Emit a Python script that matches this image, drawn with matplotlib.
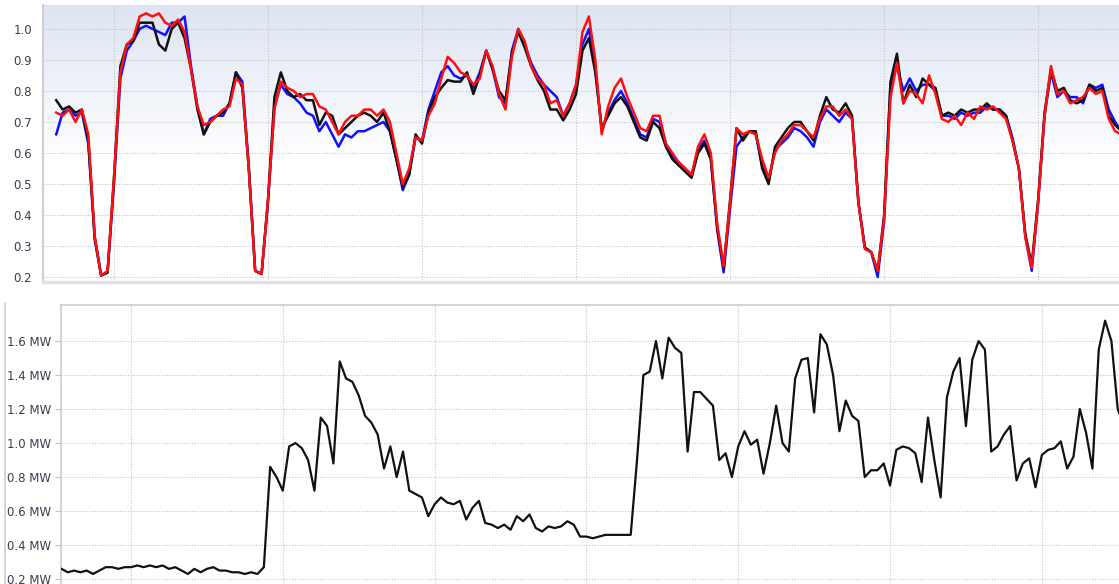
import numpy as np
import matplotlib.pyplot as plt
from matplotlib.lines import Line2D

# 上段: 3系列 (1時間ごと, t = 15 .. 181 h)
hours_top = np.arange(15, 182)

series_black = [
    0.77, 0.74, 0.75, 0.73, 0.74, 0.64, 0.33, 0.205, 0.215, 0.52,
    0.88, 0.95, 0.96, 1.02, 1.02, 1.02, 0.95, 0.93, 1.00, 1.02,
    0.97, 0.87, 0.74, 0.66, 0.70, 0.72, 0.73, 0.76, 0.86, 0.81,
    0.55, 0.22, 0.21, 0.45, 0.78, 0.86, 0.80, 0.78, 0.79, 0.77,
    0.77, 0.69, 0.73, 0.72, 0.66, 0.68, 0.70, 0.72, 0.73, 0.72,
    0.70, 0.73, 0.67, 0.58, 0.49, 0.53, 0.66, 0.63, 0.73, 0.78,
    0.81, 0.835, 0.83, 0.83, 0.86, 0.79, 0.85, 0.93, 0.87, 0.80,
    0.77, 0.92, 0.99, 0.94, 0.88, 0.835, 0.80, 0.74, 0.74, 0.705,
    0.74, 0.79, 0.93, 0.97, 0.86, 0.68, 0.72, 0.76, 0.78, 0.75,
    0.70, 0.65, 0.64, 0.70, 0.68, 0.62, 0.58, 0.56, 0.54, 0.52,
    0.60, 0.63, 0.58, 0.36, 0.23, 0.45, 0.68, 0.64, 0.67, 0.67,
    0.55, 0.50, 0.62, 0.65, 0.68, 0.70, 0.70, 0.67, 0.64, 0.72,
    0.78, 0.74, 0.73, 0.76, 0.72, 0.44, 0.295, 0.28, 0.22, 0.40,
    0.83, 0.92, 0.76, 0.82, 0.78, 0.84, 0.82, 0.81, 0.72, 0.73,
    0.72, 0.74, 0.73, 0.74, 0.74, 0.76, 0.74, 0.74, 0.72, 0.64,
    0.55, 0.34, 0.24, 0.45, 0.73, 0.87, 0.80, 0.81, 0.77, 0.76,
    0.77, 0.82, 0.80, 0.81, 0.72, 0.69, 0.67,
]

series_blue = [
    0.66, 0.73, 0.74, 0.72, 0.73, 0.63, 0.32, 0.205, 0.215, 0.50,
    0.84, 0.93, 0.96, 1.00, 1.01, 1.00, 0.99, 0.98, 1.02, 1.02,
    1.04, 0.88, 0.75, 0.66, 0.71, 0.72, 0.72, 0.76, 0.86, 0.83,
    0.56, 0.22, 0.21, 0.44, 0.75, 0.82, 0.79, 0.78, 0.76, 0.73,
    0.72, 0.67, 0.70, 0.66, 0.62, 0.66, 0.65, 0.67, 0.67, 0.68,
    0.69, 0.70, 0.67, 0.58, 0.48, 0.53, 0.65, 0.64, 0.74, 0.80,
    0.86, 0.88, 0.85, 0.84, 0.85, 0.81, 0.86, 0.93, 0.87, 0.78,
    0.76, 0.93, 1.00, 0.95, 0.89, 0.85, 0.82, 0.80, 0.78, 0.72,
    0.76, 0.82, 0.95, 1.00, 0.87, 0.67, 0.73, 0.77, 0.80, 0.76,
    0.71, 0.66, 0.65, 0.71, 0.70, 0.63, 0.59, 0.57, 0.55, 0.53,
    0.61, 0.64, 0.58, 0.35, 0.215, 0.42, 0.62, 0.65, 0.67, 0.66,
    0.56, 0.51, 0.61, 0.63, 0.65, 0.68, 0.67, 0.65, 0.62, 0.70,
    0.74, 0.72, 0.70, 0.73, 0.71, 0.44, 0.295, 0.28, 0.20, 0.38,
    0.82, 0.88, 0.80, 0.84, 0.80, 0.82, 0.82, 0.80, 0.72, 0.72,
    0.71, 0.73, 0.72, 0.73, 0.73, 0.75, 0.74, 0.74, 0.72, 0.65,
    0.55, 0.33, 0.22, 0.44, 0.72, 0.86, 0.78, 0.80, 0.78, 0.78,
    0.76, 0.82, 0.81, 0.82, 0.74, 0.70, 0.67,
]

series_red = [
    0.73, 0.72, 0.74, 0.70, 0.74, 0.66, 0.33, 0.205, 0.22, 0.52,
    0.86, 0.95, 0.97, 1.04, 1.05, 1.04, 1.05, 1.02, 1.01, 1.03,
    0.99, 0.87, 0.75, 0.69, 0.70, 0.72, 0.74, 0.75, 0.84, 0.82,
    0.55, 0.22, 0.21, 0.45, 0.74, 0.83, 0.81, 0.80, 0.78, 0.79,
    0.79, 0.75, 0.74, 0.70, 0.66, 0.70, 0.72, 0.72, 0.74, 0.74,
    0.72, 0.74, 0.70, 0.60, 0.50, 0.55, 0.65, 0.64, 0.72, 0.76,
    0.84, 0.91, 0.89, 0.86, 0.85, 0.82, 0.84, 0.93, 0.88, 0.79,
    0.74, 0.91, 1.00, 0.96, 0.88, 0.84, 0.82, 0.76, 0.77, 0.72,
    0.76, 0.82, 0.99, 1.04, 0.90, 0.66, 0.75, 0.81, 0.84, 0.78,
    0.73, 0.68, 0.67, 0.72, 0.72, 0.63, 0.60, 0.57, 0.55, 0.53,
    0.62, 0.66, 0.60, 0.37, 0.235, 0.44, 0.68, 0.66, 0.67, 0.66,
    0.58, 0.52, 0.60, 0.64, 0.66, 0.69, 0.69, 0.67, 0.65, 0.71,
    0.75, 0.75, 0.72, 0.74, 0.71, 0.44, 0.29, 0.28, 0.22, 0.39,
    0.78, 0.89, 0.76, 0.80, 0.79, 0.76, 0.85, 0.79, 0.71, 0.70,
    0.72, 0.69, 0.73, 0.71, 0.75, 0.74, 0.75, 0.73, 0.71, 0.64,
    0.55, 0.33, 0.23, 0.44, 0.72, 0.88, 0.79, 0.80, 0.76, 0.77,
    0.78, 0.81, 0.79, 0.80, 0.71, 0.67, 0.66,
]

# 下段: 電力 [MW] (1時間ごと, t = 13 .. 181 h)
hours_power = np.arange(13, 182)

power_mw = [
    0.26, 0.24, 0.25, 0.24, 0.25, 0.23, 0.25, 0.27, 0.27, 0.26,
    0.27, 0.27, 0.28, 0.27, 0.28, 0.27, 0.28, 0.26, 0.27, 0.25,
    0.23, 0.26, 0.24, 0.26, 0.27, 0.25, 0.25, 0.24, 0.24, 0.23,
    0.24, 0.23, 0.27, 0.86, 0.80, 0.72, 0.98, 1.00, 0.97, 0.90,
    0.72, 1.15, 1.10, 0.88, 1.48, 1.38, 1.36, 1.28, 1.16, 1.12,
    1.05, 0.85, 0.98, 0.80, 0.95, 0.72, 0.70, 0.68, 0.57, 0.64,
    0.68, 0.65, 0.64, 0.66, 0.55, 0.62, 0.66, 0.53, 0.52, 0.50,
    0.52, 0.49, 0.57, 0.54, 0.58, 0.50, 0.48, 0.51, 0.50, 0.51,
    0.54, 0.52, 0.45, 0.45, 0.44, 0.45, 0.46, 0.46, 0.46, 0.46,
    0.46, 0.90, 1.40, 1.42, 1.60, 1.38, 1.62, 1.56, 1.53, 0.95,
    1.30, 1.30, 1.26, 1.22, 0.90, 0.94, 0.80, 0.98, 1.07, 0.99,
    1.02, 0.82, 1.00, 1.22, 1.00, 0.95, 1.38, 1.49, 1.50, 1.18,
    1.64, 1.58, 1.40, 1.07, 1.25, 1.16, 1.13, 0.80, 0.84, 0.84,
    0.88, 0.75, 0.96, 0.98, 0.97, 0.94, 0.77, 1.15, 0.90, 0.68,
    1.27, 1.42, 1.50, 1.10, 1.49, 1.60, 1.55, 0.95, 0.98, 1.05,
    1.10, 0.78, 0.88, 0.91, 0.74, 0.93, 0.96, 0.97, 1.01, 0.85,
    0.92, 1.20, 1.06, 0.85, 1.55, 1.72, 1.60, 1.20, 1.10,
]

top_ticks = [0.2, 0.3, 0.4, 0.5, 0.6, 0.7, 0.8, 0.9, 1.0]
power_ticks = [0.2, 0.4, 0.6, 0.8, 1.0, 1.2, 1.4, 1.6]
day_lines = [24, 48, 72, 96, 120, 144, 168]

W, H = 1119, 584
fig = plt.figure(figsize=(W / 100, H / 100), dpi=100)
fig.patch.set_facecolor('white')

label_color = '#3b3b4f'
grid_kw = dict(color='#c4c4c4', linestyle=(0, (1, 1.5)), linewidth=0.8)

# ---- 上段 ----
ax1 = fig.add_axes([43 / W, 1 - 282 / H, (W - 43) / W, (282 - 5) / H])
ax1.set_xlim(12.94, 180.6)
ax1.set_ylim(0.184, 1.077)

# 背景のグラデーション (上が薄い青)
grad = np.linspace(0, 1, 256).reshape(-1, 1)
top_rgb = np.array([0.865, 0.893, 0.950])
alpha = np.clip((grad - 0.45) / 0.55, 0, 1)
img = np.ones((256, 1, 3)) * (1 - alpha[..., None]) + top_rgb * alpha[..., None]
ax1.imshow(img, extent=[0, 1, 0, 1], transform=ax1.transAxes, origin='lower',
           aspect='auto', zorder=0)

ax1.plot(hours_top, series_blue, color='#1010ff', linewidth=1.8, zorder=3)
ax1.plot(hours_top, series_black, color='#111111', linewidth=1.8, zorder=4)
ax1.plot(hours_top, series_red, color='#ff1010', linewidth=1.8, zorder=5)

ax1.set_yticks(top_ticks)
ax1.set_yticklabels(['%.1f' % v for v in top_ticks])
ax1.set_xticks(day_lines)
ax1.set_xticklabels([])
ax1.tick_params(axis='both', length=0, labelsize=8.5, labelcolor=label_color, pad=8)
ax1.grid(True, **grid_kw)
ax1.set_axisbelow(True)
for s in ['top', 'right']:
    ax1.spines[s].set_visible(False)
ax1.spines['left'].set_color('#cfcfcf')
ax1.spines['left'].set_linewidth(1.5)
ax1.spines['bottom'].set_color('#e2e2e2')
ax1.spines['bottom'].set_linewidth(2.5)

# ---- 下段 ----
ax2 = fig.add_axes([61 / W, 0, (W - 61) / W, (H - 305) / H])
ax2.set_xlim(12.93, 180.2)
ax2.set_ylim(0.171, 1.812)
ax2.plot(hours_power, power_mw, color='#111111', linewidth=1.6, zorder=3)

ax2.set_yticks(power_ticks)
ax2.set_yticklabels(['%.1f MW' % v for v in power_ticks])
ax2.set_xticks(day_lines)
ax2.set_xticklabels([])
ax2.tick_params(axis='y', length=4, color='#c4c4c4', labelsize=8.5,
                labelcolor=label_color, pad=3)
ax2.tick_params(axis='x', length=0)
ax2.grid(True, **grid_kw)
ax2.set_axisbelow(True)
ax2.spines['right'].set_visible(False)
ax2.spines['bottom'].set_visible(False)
for s in ['top', 'left']:
    ax2.spines[s].set_color('#cccccc')
    ax2.spines[s].set_linewidth(1.2)

# 左端の縦線
fig.add_artist(Line2D([5 / W, 5 / W], [0, 1 - 303 / H], color='#cfcfcf',
                      linewidth=1.2))

fig.savefig('out.png', dpi=100)
